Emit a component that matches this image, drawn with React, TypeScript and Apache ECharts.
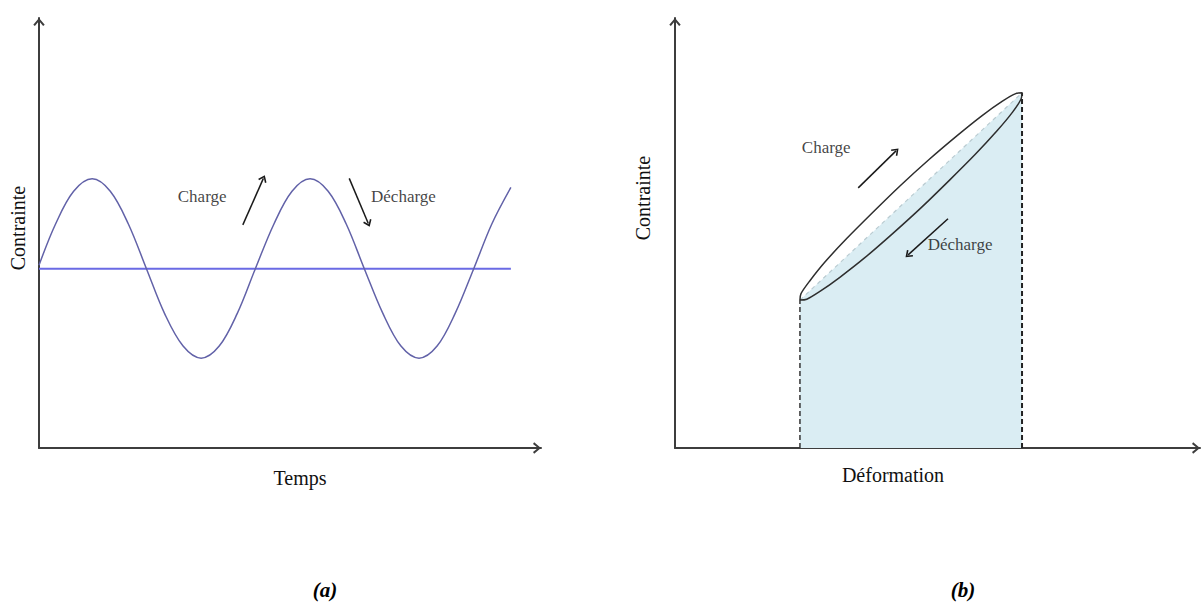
import React, { useEffect, useRef } from "react";
import * as echarts from "echarts";

// ---- Panel (a): stress vs time ----
const TIME = [0, 3.3, 6.9, 10.6, 14.2, 17.8, 21.4, 25.0, 28.7, 32.3, 35.9, 39.5, 43.1, 46.8, 50.4, 54.0, 57.6, 61.2, 64.8, 68.5, 72.1, 75.7, 79.3, 82.9, 86.6, 90.2, 94.0];
const STRESS = [42.5, 52.1, 59.7, 62.6, 59.7, 52.1, 41.7, 31.3, 23.7, 20.9, 23.7, 31.3, 41.7, 52.1, 59.7, 62.6, 59.7, 52.1, 41.7, 31.3, 23.7, 20.9, 23.7, 31.3, 41.7, 52.1, 60.6];
const MEAN_STRESS = 41.7;
const TIME_END = 94.0;
const A_LABELS = ["Charge", "Décharge"];
const A_LABEL_POS = [[32.5, 58.4], [72.6, 58.4]];
const A_ARROWS = [
  [[40.6, 51.9], [44.7, 62.7]],
  [[61.8, 62.7], [65.6, 52.2]],
];

// ---- Panel (b): stress vs strain (hysteresis loop) ----
const LOOP_STRAIN = [23.8, 24.0, 25.7, 28.6, 32.7, 37.6, 43.0, 48.5, 53.8, 58.5, 62.3, 64.9, 66.1, 65.9, 64.3, 61.3, 57.2, 52.3, 46.9, 41.4, 36.1, 31.4, 27.6, 25.1, 23.8];
const LOOP_STRESS = [34.4, 35.9, 38.9, 43.3, 48.7, 54.7, 61.1, 67.2, 72.7, 77.3, 80.6, 82.4, 82.6, 81.1, 78.1, 73.7, 68.3, 62.3, 55.9, 49.8, 44.2, 39.7, 36.4, 34.6, 34.4];
const CHORD_STRAIN = [23.8, 66.1];
const CHORD_STRESS = [34.4, 82.6];
const B_LABELS = ["Charge", "Décharge"];
const B_LABEL_POS = [[28.8, 69.8], [54.3, 47.4]];
const B_ARROWS = [
  [[34.9, 60.5], [42.1, 69.1]],
  [[52.0, 53.3], [44.4, 44.9]],
];

const AXIS_NAMES = { aX: "Temps", aY: "Contrainte", bX: "Déformation", bY: "Contrainte" };
const PANEL_TITLES = ["(a)", "(b)"];

const FONT = "'Liberation Serif', 'Times New Roman', serif";
const CHEVRON = "path://M5,0 L10,6 L8.6,7 L5,2.6 L1.4,7 L0,6 Z";
const AXIS_COLOR = "#3d3d3d";

function axisBase(gridIndex: number) {
  return {
    type: "value" as const,
    gridIndex,
    min: 0,
    max: 100,
    axisLine: {
      show: true,
      onZero: false,
      symbol: ["none", CHEVRON],
      symbolSize: [12, 8],
      symbolOffset: [0, -4],
      lineStyle: { color: AXIS_COLOR, width: 2 },
    },
    axisTick: { show: false },
    axisLabel: { show: false },
    splitLine: { show: false },
  };
}

function labelSeries(xi: number, names: string[], pos: number[][], arrows: number[][][]) {
  return {
    type: "scatter" as const,
    xAxisIndex: xi,
    yAxisIndex: xi,
    silent: true,
    z: 20,
    symbolSize: 1,
    itemStyle: { color: "rgba(0,0,0,0)" },
    labelLayout: { hideOverlap: false },
    label: {
      show: true,
      position: "inside" as const,
      formatter: "{b}",
      fontFamily: FONT,
      fontSize: 17,
      color: "#111",
    },
    data: names.map((n, i) => ({ name: n, value: pos[i] })),
    markLine: {
      silent: true,
      z: 20,
      symbol: ["none", CHEVRON],
      symbolSize: [9, 7],
      label: { show: false },
      lineStyle: { color: "#1a1a1a", width: 1.5, type: "solid" as const },
      data: arrows.map((a) => [{ coord: a[0] }, { coord: a[1] }]),
    },
  };
}

function nameStyle(padding: number[]) {
  return { fontFamily: FONT, color: "#111", fontSize: 20, padding };
}

export default function App() {
  const ref = useRef<HTMLDivElement>(null);

  useEffect(() => {
    document.body.style.margin = "0";
    if (!ref.current) return;
    const chart = echarts.init(ref.current, undefined, { renderer: "svg" });

    const xA = { ...axisBase(0), name: AXIS_NAMES.aX, nameLocation: "middle" as const, nameGap: 20, nameTextStyle: nameStyle([0, 0, 0, 20]) };
    const yA = { ...axisBase(0), name: AXIS_NAMES.aY, nameLocation: "middle" as const, nameGap: 11, nameTextStyle: nameStyle([0, 0, 0, 10]) };
    const xB = { ...axisBase(1), name: AXIS_NAMES.bX, nameLocation: "middle" as const, nameGap: 17, nameTextStyle: nameStyle([0, 89, 0, 0]) };
    const yB = { ...axisBase(1), name: AXIS_NAMES.bY, nameLocation: "middle" as const, nameGap: 22, nameTextStyle: nameStyle([0, 0, 0, 70]) };

    const titleStyle = (text: string) => ({
      text,
      fontFamily: FONT,
      fontSize: 21,
      fontStyle: "italic",
      fontWeight: "bold",
      fill: "#000",
      align: "center",
      verticalAlign: "middle",
    });

    chart.setOption({
      animation: false,
      backgroundColor: "#ffffff",
      grid: [
        { left: 39, top: 18, width: 502, height: 430 },
        { left: 675, top: 18, width: 525, height: 430 },
      ],
      xAxis: [xA, xB],
      yAxis: [yA, yB],
      graphic: [
        { type: "text", x: 325, y: 590, style: titleStyle(PANEL_TITLES[0]) },
        { type: "text", x: 963, y: 590, style: titleStyle(PANEL_TITLES[1]) },
      ],
      series: [
        {
          name: "Contrainte moyenne",
          type: "line",
          xAxisIndex: 0,
          yAxisIndex: 0,
          silent: true,
          showSymbol: false,
          symbol: "none",
          lineStyle: { color: "#6a6ae4", width: 2 },
          data: [[0, MEAN_STRESS], [TIME_END, MEAN_STRESS]],
        },
        {
          name: "Contrainte",
          type: "line",
          xAxisIndex: 0,
          yAxisIndex: 0,
          silent: true,
          smooth: 0.35,
          showSymbol: false,
          symbol: "none",
          lineStyle: { color: "#6262a8", width: 1.5 },
          data: TIME.map((t, i) => [t, STRESS[i]]),
        },
        labelSeries(0, A_LABELS, A_LABEL_POS, A_ARROWS),
        {
          name: "Energie",
          type: "line",
          xAxisIndex: 1,
          yAxisIndex: 1,
          silent: true,
          z: 1,
          showSymbol: false,
          symbol: "none",
          lineStyle: { color: "#b9cbd1", width: 1.2, type: [4, 4] },
          areaStyle: { color: "#daedf3", opacity: 1 },
          data: CHORD_STRAIN.map((x, i) => [x, CHORD_STRESS[i]]),
        },
        {
          name: "min",
          type: "line",
          xAxisIndex: 1,
          yAxisIndex: 1,
          silent: true,
          showSymbol: false,
          symbol: "none",
          lineStyle: { color: "#333", width: 1.5, type: [5, 3] },
          data: [[CHORD_STRAIN[0], 0], [CHORD_STRAIN[0], CHORD_STRESS[0]]],
        },
        {
          name: "max",
          type: "line",
          xAxisIndex: 1,
          yAxisIndex: 1,
          silent: true,
          showSymbol: false,
          symbol: "none",
          lineStyle: { color: "#222", width: 2, type: [5, 3] },
          data: [[CHORD_STRAIN[1], 0], [CHORD_STRAIN[1], CHORD_STRESS[1]]],
        },
        {
          name: "Boucle",
          type: "line",
          xAxisIndex: 1,
          yAxisIndex: 1,
          silent: true,
          smooth: 0.3,
          showSymbol: false,
          symbol: "none",
          lineStyle: { color: "#2e2e2e", width: 1.5 },
          data: LOOP_STRAIN.map((x, i) => [x, LOOP_STRESS[i]]),
        },
        labelSeries(1, B_LABELS, B_LABEL_POS, B_ARROWS),
      ],
    });

    return () => chart.dispose();
  }, []);

  return <div ref={ref} style={{ width: 1202, height: 606 }} />;
}
